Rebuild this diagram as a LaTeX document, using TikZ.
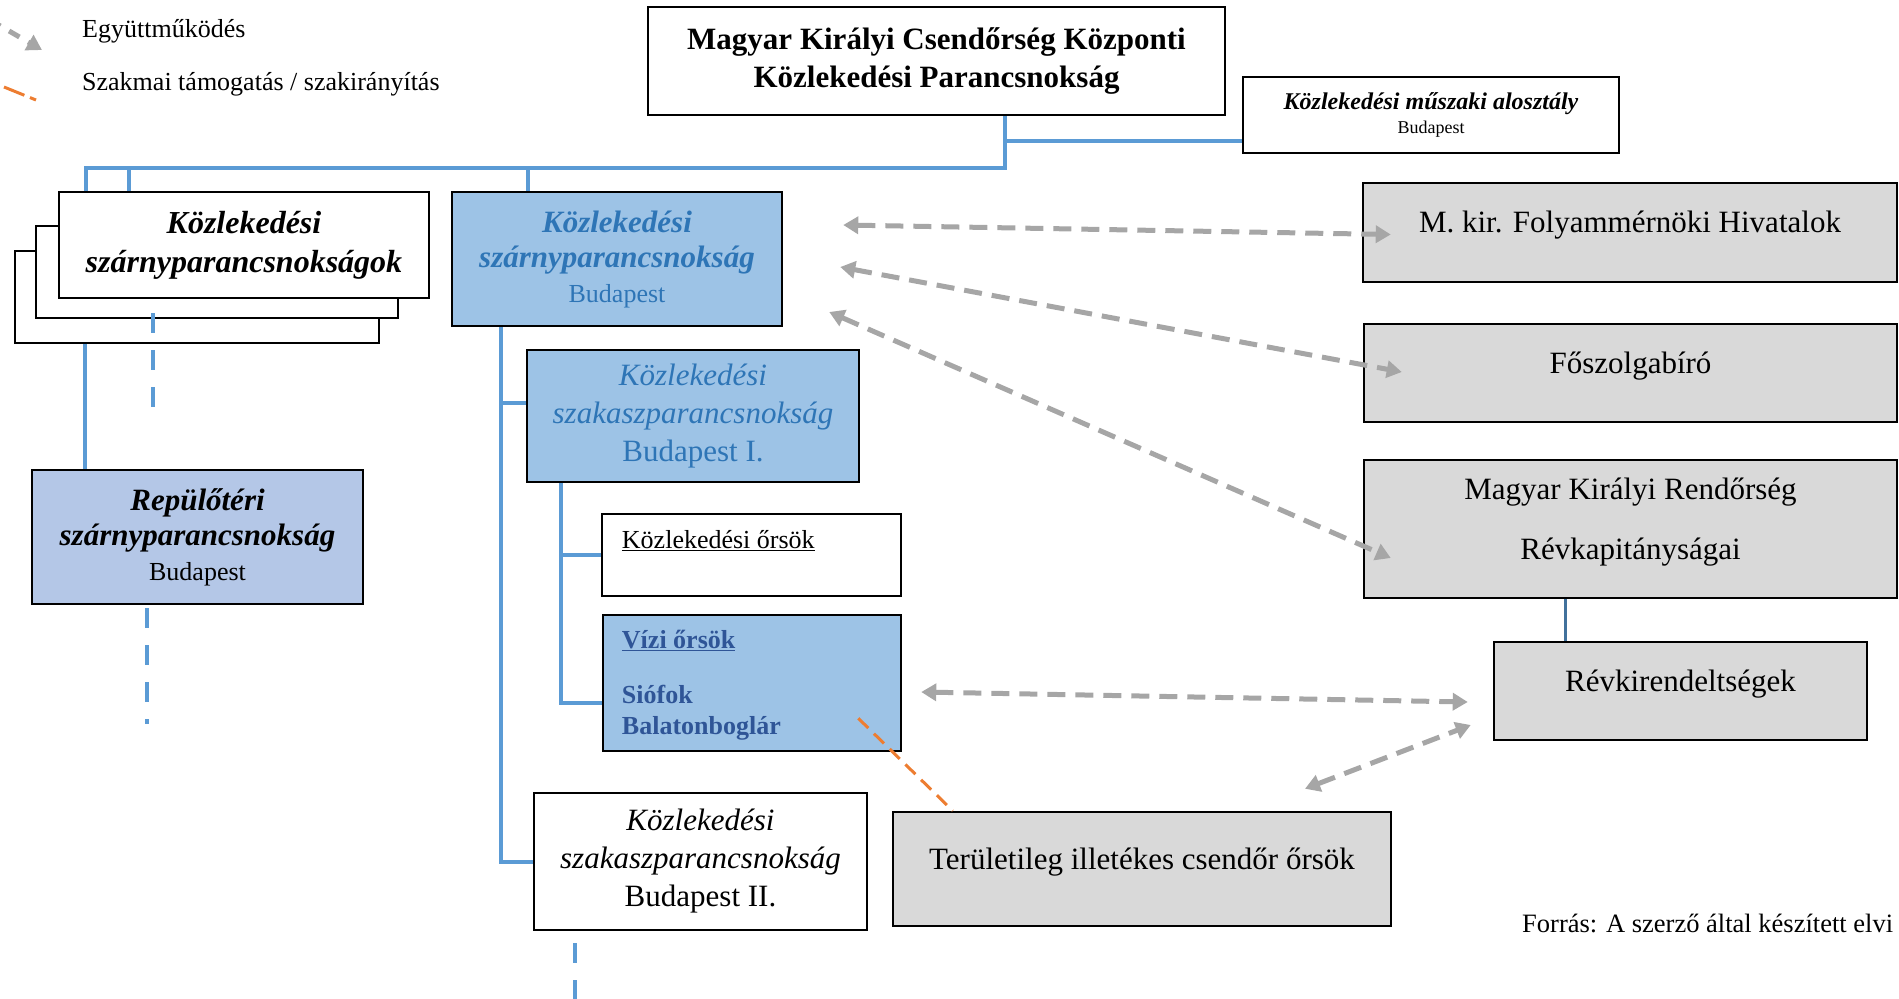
\documentclass[tikz,border=0pt]{standalone}
\usepackage{fontspec}
\setmainfont{Liberation Serif}
\usetikzlibrary{arrows.meta,calc}
\definecolor{lnblue}{HTML}{5B9BD5}
\definecolor{boxblue}{HTML}{9DC3E6}
\definecolor{repblue}{HTML}{B4C7E7}
\definecolor{txtblue}{HTML}{2E75B6}
\definecolor{vizblue}{HTML}{2F5597}
\definecolor{grayfill}{HTML}{D9D9D9}
\definecolor{arrgray}{HTML}{A6A6A6}
\definecolor{orangeln}{HTML}{ED7D31}
\definecolor{darkblue}{HTML}{41719C}
\newcommand\myfs[2]{\fontsize{#1}{#2}\selectfont}
\begin{document}
\begin{tikzpicture}[x=1pt,y=-1pt,
  box/.style={draw=black,line width=2.5pt,rectangle,inner sep=0pt,align=center},
  wbox/.style={box,fill=white},
  bbox/.style={box,fill=boxblue},
  gbox/.style={box,fill=grayfill,font=\myfs{31}{37},text height=11pt,text depth=11pt},
  txt/.style={inner sep=0pt},
  conn/.style={draw=lnblue,line width=4pt},
  dconn/.style={draw=lnblue,line width=4pt,dash pattern=on 20pt off 17pt},
  tipg/.tip={Triangle[length=15pt,width=17pt]},
  coop/.style={draw=arrgray,line width=5pt,dash pattern=on 18pt off 10pt,tipg-tipg},
  coopone/.style={draw=arrgray,line width=5pt,dash pattern=on 12pt off 10pt,-tipg},
  prof/.style={draw=orangeln,line width=3pt,dash pattern=on 14pt off 8pt},
]
\useasboundingbox (0,0) rectangle (1899,999);

% ---------- legend ----------
\coordinate (lgA) at (-10,20);
\coordinate (lgB) at (42,50);
\draw[coopone] (lgA) -- (lgB);
\node[txt,anchor=base west,font=\myfs{26}{30}] (legA) at (82,37) {Együttműködés};
\coordinate (loA) at (4,87);
\coordinate (loB) at (36,100);
\draw[prof,dash pattern=on 22pt off 6pt] (loA) -- (loB);
\node[txt,anchor=base west,font=\myfs{26}{30}] (legB) at (82,90) {Szakmai támogatás / szakirányítás};

% ---------- boxes ----------
\node[wbox,minimum width=577pt,minimum height=108pt,font=\bfseries\myfs{31}{38}] (top) at (936.5,61)
  {Magyar Királyi Csendőrség Központi\\Közlekedési Parancsnokság};
\node[wbox,minimum width=376pt,minimum height=76pt,font=\myfs{24}{24}] (musz) at (1431,115)
  {{\bfseries\itshape Közlekedési műszaki alosztály}\\{\myfs{18}{24}Budapest}};

\node[wbox,minimum width=364pt,minimum height=92pt] (stackc) at (197,297) {};
\node[wbox,minimum width=362pt,minimum height=92pt] (stackb) at (217,272) {};
\node[wbox,minimum width=370pt,minimum height=106pt,font=\bfseries\itshape\myfs{32}{39}] (front) at (244,245)
  {Közlekedési\\szárnyparancsnokságok};

\node[bbox,minimum width=330pt,minimum height=134pt,text=txtblue,font=\myfs{31}{35}] (blue1) at (617,259)
  {{\bfseries\itshape Közlekedési}\\{\bfseries\itshape szárnyparancsnokság}\\{\myfs{26}{33}Budapest}};
\node[bbox,minimum width=332pt,minimum height=132pt,text=txtblue,font=\myfs{31}{38}] (szak1) at (693,416)
  {{\itshape Közlekedési}\\{\itshape szakaszparancsnokság}\\Budapest I.};
\node[box,fill=repblue,minimum width=331pt,minimum height=134pt,font=\myfs{31}{35}] (rep) at (197.5,537)
  {{\bfseries\itshape Repülőtéri}\\{\bfseries\itshape szárnyparancsnokság}\\{\myfs{26}{33}Budapest}};

\node[wbox,minimum width=299pt,minimum height=82pt] (kozors) at (751.5,555) {};
\node[txt,anchor=base west,font=\myfs{26}{30}] (kozorsT) at ($(kozors.north west)+(21,36)$) {\underline{Közlekedési őrsök}};
\node[bbox,minimum width=298pt,minimum height=136pt] (vizi) at (752,683) {};
\node[txt,anchor=base west,font=\bfseries\myfs{26}{30},text=vizblue] (viziA) at ($(vizi.north west)+(20,35)$) {\underline{Vízi őrsök}};
\node[txt,anchor=base west,font=\bfseries\myfs{26}{30},text=vizblue] (viziB) at ($(vizi.north west)+(20,90)$) {Siófok};
\node[txt,anchor=base west,font=\bfseries\myfs{26}{30},text=vizblue] (viziC) at ($(vizi.north west)+(20,121)$) {Balatonboglár};

\node[wbox,minimum width=333pt,minimum height=137pt,font=\myfs{31}{38}] (szak2) at (700.5,861.5)
  {{\itshape Közlekedési}\\{\itshape szakaszparancsnokság}\\Budapest II.};

\node[gbox,minimum width=498pt,minimum height=114pt] (terul) at (1142,869) {Területileg illetékes csendőr őrsök};
\node[gbox,minimum width=534pt,minimum height=99pt] (folyam) at (1630,232.5) {M. kir. Folyammérnöki Hivatalok};
\node[gbox,minimum width=533pt,minimum height=98pt] (fosz) at (1630.5,373) {Főszolgabíró};
\node[gbox,minimum width=533pt,minimum height=138pt] (rendor) at (1630.5,529) {};
\node[txt,align=center,font=\myfs{31}{60}] (rendorT) at ($(rendor.center)+(0,-7)$) {Magyar Királyi Rendőrség\\Révkapitányságai};
\node[gbox,minimum width=373pt,minimum height=98pt] (revkir) at (1680.5,691) {Révkirendeltségek};

\node[txt,anchor=base west,font=\myfs{26.5}{30}] (forras) at (1522,932) {Forrás: A szerző által készített elvi};

% ---------- blue organisational connectors ----------
\coordinate (hub) at ($(top.south west)+(358,52)$);
\coordinate (d1) at ($(front.north west)+(28,0)$);
\coordinate (d2) at ($(front.north west)+(71,0)$);
\coordinate (d3) at ($(blue1.north west)+(77,0)$);
\draw[conn] (top.south -| hub) -- (hub) -- (hub -| d1) -- (d1);
\draw[conn] (hub -| d2) -- (d2);
\draw[conn] (hub -| d3) -- (d3);
\coordinate (m1) at ($(musz.south west)+(0,-13)$);
\draw[conn] (m1) -- (m1 -| hub);

\coordinate (r1) at ($(rep.north west)+(54,0)$);
\draw[conn] (r1 |- stackc.south) -- (r1);
\coordinate (q1) at ($(front.south west)+(95,14)$);
\draw[dconn] (q1) -- ++(0,96);
\coordinate (q2) at ($(rep.south west)+(116,3)$);
\draw[dconn] (q2) -- ++(0,116);
\coordinate (q3) at ($(szak2.south west)+(42,12)$);
\draw[dconn] (q3) -- ++(0,70);

\coordinate (bv) at ($(blue1.south west)+(50,0)$);
\coordinate (b1) at ($(szak1.north west)+(0,54)$);
\draw[conn] (bv) |- (szak2.west);
\draw[conn] (bv |- b1) -- (b1);
\coordinate (sv) at ($(szak1.south west)+(35,0)$);
\coordinate (v1) at ($(vizi.west)+(0,20)$);
\draw[conn] (sv) |- (v1);
\draw[conn] (sv |- kozors.west) -- (kozors.west);

\coordinate (rv) at ($(revkir.north west)+(73,0)$);
\draw[draw=darkblue,line width=3pt] (rv |- rendor.south) -- (rv);

% ---------- cooperation arrows ----------
\coordinate (a1L) at ($(blue1.east)+(60,-34)$);
\coordinate (a1R) at ($(folyam.west)+(29,2)$);
\draw[coop] (a1L) -- (a1R);
\coordinate (a2L) at ($(blue1.east)+(57,8)$);
\coordinate (a2R) at ($(fosz.west)+(39,-1)$);
\draw[coop] (a2L) -- (a2R);
\coordinate (a3L) at ($(blue1.east)+(46,53)$);
\coordinate (a3R) at ($(rendor.west)+(28,29)$);
\draw[coop] (a3L) -- (a3R);
\coordinate (a4L) at ($(vizi.east)+(19,9)$);
\coordinate (a4R) at ($(revkir.west)+(-25,11)$);
\draw[coop] (a4L) -- (a4R);
\coordinate (a5L) at ($(terul.north)+(163,-22)$);
\coordinate (a5R) at ($(revkir.west)+(-22,34)$);
\draw[coop] (a5L) -- (a5R);

% ---------- professional support ----------
\coordinate (o1) at ($(vizi.south east)+(-44,-34)$);
\coordinate (o2) at ($(terul.north west)+(61,0)$);
\draw[prof] (o1) -- (o2);
\end{tikzpicture}
\end{document}
